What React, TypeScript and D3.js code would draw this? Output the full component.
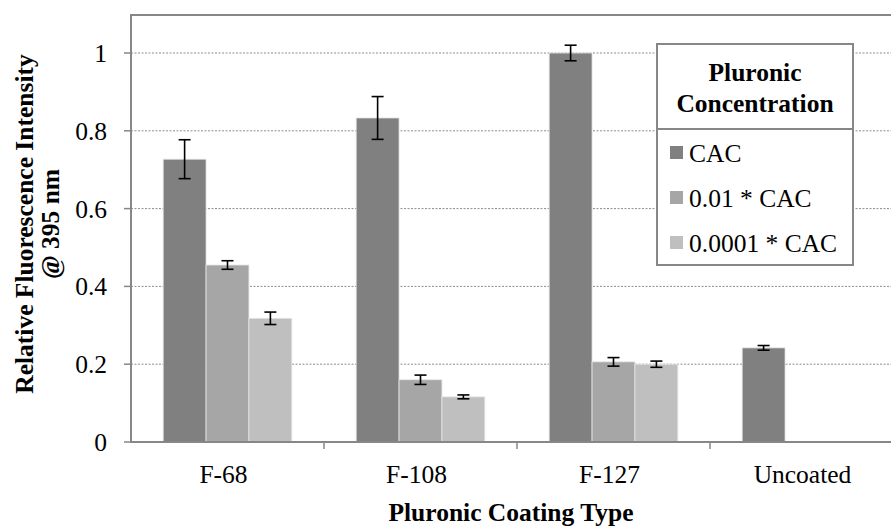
import React from "react";
import * as d3 from "d3";

const categories = ["F-68", "F-108", "F-127", "Uncoated"];
const seriesNames = ["CAC", "0.01 * CAC", "0.0001 * CAC"];
const seriesColors = ["#808080", "#a6a6a6", "#bfbfbf"];
// values per series, per category (null = no bar)
const cacValues = [0.727, 0.833, 1.0, 0.242];
const cac01Values = [0.455, 0.16, 0.206, null];
const cac0001Values = [0.318, 0.116, 0.2, null];
const cacErrors = [0.05, 0.055, 0.02, 0.006];
const cac01Errors = [0.011, 0.012, 0.011, null];
const cac0001Errors = [0.016, 0.005, 0.008, null];
const yTicks = [0, 0.2, 0.4, 0.6, 0.8, 1];

const seriesValues = [cacValues, cac01Values, cac0001Values];
const seriesErrors = [cacErrors, cac01Errors, cac0001Errors];

const width = 891;
const height = 527;
const left = 131;
const right = 903; // plot runs past the picture edge
const top = 15;
const bottom = 442;
const font = "Liberation Serif";

export default function App() {
  const x = d3.scaleBand().domain(categories).range([left, right]).padding(0);
  const bw = x.bandwidth();
  const inner = d3
    .scaleBand()
    .domain(seriesNames)
    .range([bw / 6, bw - bw / 6])
    .padding(0);
  const y = d3.scaleLinear().domain([0, 1]).range([bottom, 53]);

  return (
    <svg
      width={width}
      height={height}
      style={{ position: "absolute", left: 0, top: 0, fontFamily: font }}
    >
      <rect width={width} height={height} fill="#fff" />
      {/* frame */}
      <line x1={left} x2={right} y1={top} y2={top} stroke="#878787" strokeWidth={2} />
      {/* gridlines */}
      {yTicks.slice(1).map((t) => (
        <line key={t} x1={left} x2={right} y1={y(t)} y2={y(t)} stroke="#8c8c8c" strokeWidth={1} strokeDasharray="2,1.5" />
      ))}
      {/* bars */}
      {seriesValues.map((vals, si) =>
        vals.map((v, ci) =>
          v == null ? null : (
            <rect
              key={`${si}-${ci}`}
              x={(x(categories[ci]) as number) + (inner(seriesNames[si]) as number)}
              y={y(v)}
              width={inner.bandwidth()}
              height={bottom - y(v)}
              fill={seriesColors[si]}
              stroke="#e6e6e6"
              strokeWidth={0.8}
            />
          )
        )
      )}
      {/* error bars */}
      {seriesValues.map((vals, si) =>
        vals.map((v, ci) => {
          const e = seriesErrors[si][ci];
          if (v == null || e == null) return null;
          const cx = (x(categories[ci]) as number) + (inner(seriesNames[si]) as number) + inner.bandwidth() / 2;
          return (
            <g key={`e${si}-${ci}`} stroke="#000" strokeWidth={1.6}>
              <line x1={cx} x2={cx} y1={y(v + e)} y2={y(v - e)} />
              <line x1={cx - 6} x2={cx + 6} y1={y(v + e)} y2={y(v + e)} />
              <line x1={cx - 6} x2={cx + 6} y1={y(v - e)} y2={y(v - e)} />
            </g>
          );
        })
      )}
      {/* axes */}
      <line x1={left} x2={left} y1={top - 1} y2={bottom + 1} stroke="#878787" strokeWidth={2} />
      <line x1={left} x2={right} y1={bottom} y2={bottom} stroke="#878787" strokeWidth={2} />
      {yTicks.map((t) => (
        <g key={t}>
          <line x1={left - 7} x2={left} y1={y(t)} y2={y(t)} stroke="#878787" strokeWidth={1.5} />
          <text x={107} y={y(t)} dy="0.35em" textAnchor="end" fontFamily={font} fontSize={25.5}>
            {t}
          </text>
        </g>
      ))}
      {categories.map((c, i) => (
        <g key={c}>
          {i > 0 && (
            <line x1={x(c)} x2={x(c)} y1={bottom} y2={bottom + 7} stroke="#878787" strokeWidth={1.5} />
          )}
          <text x={(x(c) as number) + bw / 2 - 4} y={483} textAnchor="middle" fontFamily={font} fontSize={25.5}>
            {c}
          </text>
        </g>
      ))}
      {/* axis titles */}
      <text x={511} y={521} textAnchor="middle" fontFamily={font} fontSize={25.5} fontWeight="bold">
        Pluronic Coating Type
      </text>
      <g transform="translate(0,224) rotate(-90)">
        <text x={0} y={33} textAnchor="middle" fontFamily={font} fontSize={25.5} fontWeight="bold">
          Relative Fluorescence Intensity
        </text>
        <text x={0} y={59} textAnchor="middle" fontFamily={font} fontSize={25.5} fontWeight="bold">
          @ 395 nm
        </text>
      </g>
      {/* legend */}
      <rect x={657} y={44} width={196} height={221} fill="#fff" stroke="#878787" strokeWidth={2} />
      <line x1={657} x2={853} y1={129} y2={129} stroke="#878787" strokeWidth={2} />
      <text x={755} y={81} textAnchor="middle" fontFamily={font} fontSize={25.5} fontWeight="bold">
        Pluronic
      </text>
      <text x={755} y={112} textAnchor="middle" fontFamily={font} fontSize={25.5} fontWeight="bold">
        Concentration
      </text>
      {seriesNames.map((s, i) => (
        <g key={s} transform={`translate(670,${162 + i * 45})`}>
          <rect x={0} y={-16} width={13} height={13} fill={seriesColors[i]} />
          <text x={19} y={0} fontFamily={font} fontSize={25.5}>
            {s}
          </text>
        </g>
      ))}
    </svg>
  );
}
